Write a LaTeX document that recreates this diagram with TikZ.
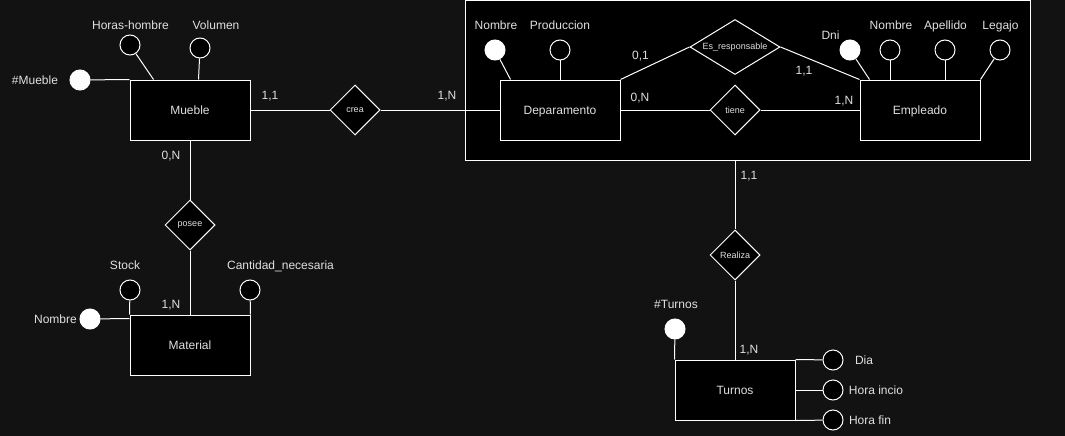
\documentclass[tikz,border=0pt]{standalone}
\usepackage{fontspec}
\setmainfont{Liberation Sans}
\usetikzlibrary{shapes.geometric,calc}
\definecolor{bg}{RGB}{18,18,18}
\definecolor{txt}{RGB}{224,224,224}
\tikzset{
ent/.style={draw=white,fill=black,line width=1pt,minimum width=120,minimum height=60,inner sep=0,text=txt,font=\fontsize{12}{14}\selectfont,text height=8.6pt,text depth=0pt},
rel/.style={diamond,draw=white,fill=black,line width=1pt,minimum width=50,minimum height=50,inner sep=0,text=txt,font=\fontsize{9}{10}\selectfont},
attr/.style={circle,draw=white,fill=black,line width=1pt,minimum size=20,inner sep=0},
keyattr/.style={attr,fill=white},
lbl/.style={text=txt,font=\fontsize{12}{14}\selectfont,inner sep=0,text height=8.6pt,text depth=0pt},
ln/.style={draw=white,line width=1pt}
}
\begin{document}
\begin{tikzpicture}[x=1pt,y=-1pt]
\fill[bg](0,0)rectangle(1065,436);
\useasboundingbox(0,0)rectangle(1065,436);
% grupo departamento - empleado
\node[draw=white,fill=black,line width=1pt,minimum width=565,minimum height=159,inner sep=0](grp) at (747.5,80.5){};
% entidades
\node[ent](mueble) at (190,110){Mueble};
\node[ent](mat) at (190,345){Material};
\node[ent](dep) at (560,110){Deparamento};
\node[ent](emp) at (920,110){Empleado};
\node[ent](turnos) at (735,390){Turnos};
% relaciones
\node[rel](crea) at (355,110){crea};
\node[rel](posee) at (190,225){posee};
\node[rel](tiene) at (735,110){tiene};
\node[rel,aspect=1.64,minimum width=90,minimum height=55](esr) at (735,47){Es\_responsable};
\node[rel](realiza) at (735,255){Realiza};
% atributos mueble
\node[keyattr](mkey) at (80,80){};
\node[lbl](mkeyl) at (35,80){\#Mueble};
\node[attr](hh) at (130,45){};
\node[lbl](hhl) at (130.5,25){Horas-hombre};
\node[attr](vol) at (200,48){};
\node[lbl](voll) at (216,25){Volumen};
% atributos material
\node[keyattr](matkey) at (90,319){};
\node[lbl](matkeyl) at (55.5,319){Nombre};
\node[attr](stock) at (130,290){};
\node[lbl](stockl) at (125,265){Stock};
\node[attr](cant) at (250,290){};
\node[lbl](cantl) at (280.5,265){Cantidad\_necesaria};
% atributos deparamento
\node[keyattr](dkey) at (495,50){};
\node[lbl](dkeyl) at (496,25){Nombre};
\node[attr](prod) at (560,50){};
\node[lbl](prodl) at (560,25){Produccion};
% atributos empleado
\node[keyattr](dni) at (850,50){};
\node[lbl](dnil) at (830.5,35){Dni};
\node[attr](enom) at (890,50){};
\node[lbl](enoml) at (891,25){Nombre};
\node[attr](eape) at (945,50){};
\node[lbl](eapel) at (945.5,25){Apellido};
\node[attr](leg) at (1000,50){};
\node[lbl](legl) at (1000.5,25){Legajo};
% atributos turnos
\node[keyattr](tkey) at (675,329){};
\node[lbl](tkeyl) at (676,304){\#Turnos};
\node[attr](dia) at (833,360){};
\node[lbl](dial) at (864,360){Dia};
\node[attr](hini) at (833,390){};
\node[lbl](hinil) at (876,390){Hora incio};
\node[attr](hfin) at (833,420){};
\node[lbl](hfinl) at (870,420){Hora fin};
% cardinalidades
\node[lbl](c1) at (270,95){1,1};
\node[lbl](c2) at (447,95){1,N};
\node[lbl](c3) at (171,155){0,N};
\node[lbl](c4) at (171,304){1,N};
\node[lbl](c5) at (640.5,55){0,1};
\node[lbl](c6) at (640,97){0,N};
\node[lbl](c7) at (804,70){1,1};
\node[lbl](c8) at (844,100){1,N};
\node[lbl](c9) at (749,175){1,1};
\node[lbl](c10) at (749,349){1,N};
% conectores
\draw[ln](mueble)--(crea);
\draw[ln](crea)--(dep);
\draw[ln](mueble)--(posee);
\draw[ln](posee)--(mat);
\draw[ln](dep)--(tiene);
\draw[ln](tiene)--(emp);
\draw[ln](dep.north east)--(esr.west);
\draw[ln](esr.east)--(emp.north west);
\draw[ln](realiza |- grp.south)--(realiza);
\draw[ln](realiza)--(realiza |- turnos.north);
% lineas de atributos
\draw[ln](mkey)--(mueble.north west);
\draw[ln](hh)--($(mueble.north west)+(24,0)$);
\draw[ln](vol)--($(mueble.north west)+(69,0)$);
\draw[ln](matkey)--($(mat.north west)+(0,4)$);
\draw[ln](stock)--(mat.north west);
\draw[ln](cant)--(mat.north east);
\draw[ln](dkey)--($(dep.north west)+(11,0)$);
\draw[ln](prod)--(prod |- dep.north);
\draw[ln](dni)--($(emp.north west)+(10,0)$);
\draw[ln](enom)--(enom |- emp.north);
\draw[ln](eape)--(eape |- emp.north);
\draw[ln](leg)--(emp.north east);
\draw[ln](tkey)--(turnos.north west);
\draw[ln](turnos.north east)--(dia);
\draw[ln](turnos.east)--(hini);
\draw[ln](turnos.south east)--(hfin);
\end{tikzpicture}
\end{document}
